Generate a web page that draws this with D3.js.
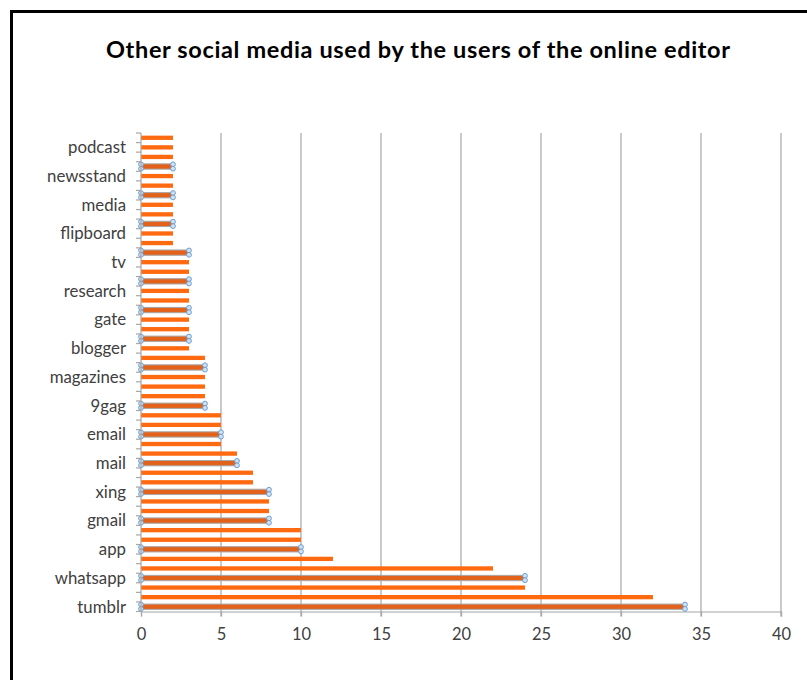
<!DOCTYPE html>
<html>
<head>
<meta charset="utf-8">
<script src="https://cdn.jsdelivr.net/npm/d3@7"></script>
<style>
  html, body { margin: 0; padding: 0; background: #fff; }
  svg { display: block; }
</style>
</head>
<body>
<svg id="chart" width="807" height="680"></svg>
<script>
// Values listed from the bottom bar (index 0) to the top bar (index 49)
const values = [34, 32, 24, 24, 22, 12, 10, 10, 10, 8,
                8, 8, 8, 7, 7, 6, 6, 5, 5, 5,
                5, 4, 4, 4, 4, 4, 4, 3, 3, 3,
                3, 3, 3, 3, 3, 3, 3, 3, 2, 2,
                2, 2, 2, 2, 2, 2, 2, 2, 2, 2];
// Category labels shown on the axis (every third category, from the bottom)
const tickLabels = ["tumblr", "whatsapp", "app", "gmail", "xing", "mail", "email", "9gag",
                    "magazines", "blogger", "gate", "research", "tv", "flipboard", "media",
                    "newsstand", "podcast"];
const tickIdx = tickLabels.map((d, i) => i * 3);
// Bars shown with selection handles
const selectedIdx = [0, 3, 6, 9, 12, 15, 18, 21, 25, 28, 31, 34, 37, 40, 43, 46];
const xTicks = [0, 5, 10, 15, 20, 25, 30, 35, 40];
const title = "Other social media used by the users of the online editor";

(function () {
const svg = d3.select("#chart");
const FONT = "Lato, 'Open Sans', sans-serif";

// frame
svg.append("rect").attr("x", 11.5).attr("y", 11.5).attr("width", 820).attr("height", 700)
  .attr("fill", "none").attr("stroke", "#000").attr("stroke-width", 3);

svg.append("text").attr("x", 418).attr("y", 58).attr("text-anchor", "middle")
  .attr("font-family", FONT).attr("font-weight", "bold").attr("font-size", 23.5)
  .attr("textLength", 624).attr("lengthAdjust", "spacing")
  .attr("fill", "#000").text(title);

const pLeft = 141, pRight = 781, pTop = 133, pBottom = 611.5;
const x = d3.scaleLinear().domain([0, 40]).range([pLeft, pRight]);
const idx = d3.range(values.length);
const y = d3.scaleBand().domain(idx).range([pBottom, pTop]).paddingInner(0.55).paddingOuter(0.275);
const step = y.step();

// gridlines
svg.append("g").selectAll("line").data(xTicks.slice(1)).join("line")
  .attr("x1", d => x(d)).attr("x2", d => x(d))
  .attr("y1", pTop).attr("y2", pBottom + 5)
  .attr("stroke", "#a6a6a6").attr("stroke-width", 1.2);

// x axis
const xAxis = d3.axisBottom(x).tickValues(xTicks).tickSize(5).tickPadding(12);
const gx = svg.append("g").attr("transform", `translate(0,${pBottom})`).call(xAxis);
gx.select(".domain").attr("stroke", "#a6a6a6").attr("stroke-width", 1.2);
gx.selectAll(".tick line").attr("stroke", "#a6a6a6").attr("stroke-width", 1.2);
gx.selectAll("text").attr("font-family", FONT).attr("font-size", 16.5).attr("fill", "#404040");

// bars
const plain = idx.filter(i => !selectedIdx.includes(i));
svg.append("g").selectAll("rect").data(plain).join("rect")
  .attr("x", x(0)).attr("y", i => y(i))
  .attr("width", i => x(values[i]) - x(0)).attr("height", y.bandwidth())
  .attr("fill", "#ff6a10");

const sel = svg.append("g").selectAll("g").data(selectedIdx).join("g");
sel.append("rect")
  .attr("x", x(0)).attr("y", i => y(i) - 0.5)
  .attr("width", i => x(values[i]) - x(0)).attr("height", y.bandwidth() + 1)
  .attr("fill", "#e2621c").attr("stroke", "#a8a8a8").attr("stroke-width", 1);
[0, 1].forEach(end => {
  [-2.2, 2.2].forEach(dy => {
    sel.append("circle")
      .attr("cx", i => x(end ? values[i] : 0))
      .attr("cy", i => y(i) + y.bandwidth() / 2 + dy)
      .attr("r", 2.4)
      .attr("fill", "#cfe2f3").attr("stroke", "#6f9fcf").attr("stroke-width", 1);
  });
});

// y axis
svg.append("line").attr("x1", pLeft).attr("x2", pLeft).attr("y1", pTop).attr("y2", pBottom)
  .attr("stroke", "#a6a6a6").attr("stroke-width", 1.2);
svg.append("g").selectAll("line").data(d3.range(values.length + 1)).join("line")
  .attr("x1", pLeft - 5).attr("x2", pLeft)
  .attr("y1", k => pBottom - k * step).attr("y2", k => pBottom - k * step)
  .attr("stroke", "#a6a6a6").attr("stroke-width", 1.2);
svg.append("g").selectAll("text").data(tickIdx).join("text")
  .attr("x", pLeft - 15).attr("y", i => y(i) + y.bandwidth() / 2)
  .attr("dy", "0.35em").attr("text-anchor", "end")
  .attr("font-family", FONT).attr("font-size", 16.8).attr("fill", "#404040")
  .text((i, k) => tickLabels[k]);
})();
</script>
</body>
</html>
